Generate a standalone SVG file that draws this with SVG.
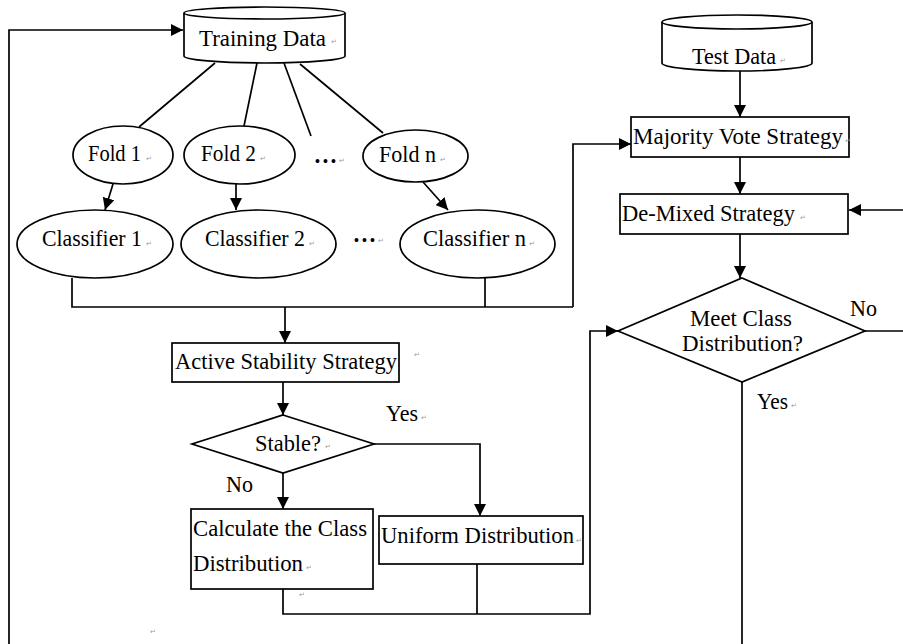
<svg xmlns="http://www.w3.org/2000/svg" width="903" height="644" viewBox="0 0 903 644">
<style>
.s{fill:#fff;stroke:#000;stroke-width:1.7}
.c{fill:none;stroke:#000;stroke-width:1.7}
.t{font-family:"Liberation Serif","Times New Roman",serif;font-size:23.5px;fill:#000}
.p{font-family:"DejaVu Sans",sans-serif;font-size:7px;fill:#999}
.d{font-family:"Liberation Serif",serif;font-size:14px;font-weight:bold;fill:#000}
</style>
<defs>
<marker id="ah" markerWidth="12" markerHeight="12" refX="12" refY="6" orient="auto" markerUnits="userSpaceOnUse"><path d="M0,0 L12,6 L0,12 z" fill="#000"/></marker>
</defs>
<rect width="903" height="644" fill="#fff"/>
<g id="connectors">
<polyline class="c" points="9,644 9,30 183,30" marker-end="url(#ah)"/>
<line class="c" x1="215" y1="63" x2="139" y2="127"/>
<line class="c" x1="257" y1="63" x2="244" y2="126"/>
<line class="c" x1="284" y1="63" x2="311" y2="136"/>
<line class="c" x1="300" y1="64" x2="383" y2="133"/>
<line class="c" x1="113" y1="184" x2="105" y2="210" marker-end="url(#ah)"/>
<line class="c" x1="236" y1="184" x2="236" y2="210" marker-end="url(#ah)"/>
<line class="c" x1="423" y1="182" x2="448" y2="210" marker-end="url(#ah)"/>
<polyline class="c" points="72,278 72,307 573,307"/>
<line class="c" x1="485" y1="278" x2="485" y2="307"/>
<polyline class="c" points="573,307 573,144 631,144" marker-end="url(#ah)"/>
<line class="c" x1="285" y1="307" x2="285" y2="343" marker-end="url(#ah)"/>
<line class="c" x1="283" y1="382" x2="283" y2="415" marker-end="url(#ah)"/>
<polyline class="c" points="374,444 480,444 480,516" marker-end="url(#ah)"/>
<line class="c" x1="283" y1="473" x2="283" y2="509" marker-end="url(#ah)"/>
<polyline class="c" points="283,589 283,614 590,614 590,331 618,331" marker-end="url(#ah)"/>
<line class="c" x1="477" y1="564" x2="477" y2="614"/>
<line class="c" x1="740" y1="71" x2="740" y2="117" marker-end="url(#ah)"/>
<line class="c" x1="740" y1="157" x2="740" y2="194" marker-end="url(#ah)"/>
<line class="c" x1="740" y1="234" x2="740" y2="278" marker-end="url(#ah)"/>
<line class="c" x1="865" y1="331" x2="903" y2="331"/>
<line class="c" x1="903" y1="210" x2="849" y2="210" marker-end="url(#ah)"/>
<line class="c" x1="742" y1="382" x2="742" y2="644"/>
</g>
<g id="training-data">
<path class="s" d="M184,13 L184,56 A80.5,7 0 0 0 345,56 L345,13"/>
<ellipse class="s" cx="264.5" cy="13" rx="80.5" ry="6"/>
<text class="t" x="199" y="46" textLength="127" lengthAdjust="spacingAndGlyphs">Training Data</text>
<text class="p" x="331" y="44">↵</text>
</g>
<g id="fold1">
<ellipse class="s" cx="123" cy="155" rx="50" ry="29"/>
<text class="t" x="88" y="161" textLength="53" lengthAdjust="spacingAndGlyphs">Fold 1</text>
<text class="p" x="146" y="161">↵</text>
</g>
<g id="fold2">
<ellipse class="s" cx="239.5" cy="155" rx="55.5" ry="29"/>
<text class="t" x="201" y="161" textLength="55" lengthAdjust="spacingAndGlyphs">Fold 2</text>
<text class="p" x="260" y="161">↵</text>
</g>
<g id="dots1">
<text class="d" x="315" y="166" textLength="21">•••</text>
<text class="p" x="339" y="163">↵</text>
</g>
<g id="foldn">
<ellipse class="s" cx="415.5" cy="156" rx="52.5" ry="26"/>
<text class="t" x="379" y="162" textLength="57" lengthAdjust="spacingAndGlyphs">Fold n</text>
<text class="p" x="440" y="162">↵</text>
</g>
<g id="classifier1">
<ellipse class="s" cx="95" cy="244" rx="78" ry="34"/>
<text class="t" x="42" y="246" textLength="100" lengthAdjust="spacingAndGlyphs">Classifier 1</text>
<text class="p" x="146" y="246">↵</text>
</g>
<g id="classifier2">
<ellipse class="s" cx="258.5" cy="244" rx="77.5" ry="34"/>
<text class="t" x="205" y="246" textLength="100" lengthAdjust="spacingAndGlyphs">Classifier 2</text>
<text class="p" x="309" y="246">↵</text>
</g>
<g id="dots2">
<text class="d" x="354" y="245" textLength="21">•••</text>
<text class="p" x="378" y="243">↵</text>
</g>
<g id="classifiern">
<ellipse class="s" cx="477.5" cy="244" rx="77.5" ry="34"/>
<text class="t" x="423" y="246" textLength="103" lengthAdjust="spacingAndGlyphs">Classifier n</text>
<text class="p" x="529" y="246">↵</text>
</g>
<g id="active-stability">
<rect class="s" x="172" y="343" width="227" height="39"/>
<text class="t" x="175" y="369" textLength="222" lengthAdjust="spacingAndGlyphs">Active Stability Strategy</text>
<text class="p" x="414" y="357">↵</text>
</g>
<g id="stable">
<polygon class="s" points="283,415 374,444 283,473 192,444"/>
<text class="t" x="255" y="451" textLength="66" lengthAdjust="spacingAndGlyphs">Stable?</text>
<text class="p" x="325" y="449">↵</text>
</g>
<g id="labels">
<text class="t" x="386" y="421" textLength="32" lengthAdjust="spacingAndGlyphs">Yes</text>
<text class="p" x="421" y="420">↵</text>
<text class="t" x="226" y="492" textLength="27" lengthAdjust="spacingAndGlyphs">No</text>
<text class="t" x="850" y="316" textLength="27" lengthAdjust="spacingAndGlyphs">No</text>
<text class="t" x="757" y="409" textLength="31" lengthAdjust="spacingAndGlyphs">Yes</text>
<text class="p" x="791" y="408">↵</text>
<text class="p" x="150" y="634">↵</text>
</g>
<g id="calc-class">
<rect class="s" x="191" y="509" width="182" height="80"/>
<text class="t" x="193" y="536" textLength="174" lengthAdjust="spacingAndGlyphs">Calculate the Class</text>
<text class="t" x="193" y="571" textLength="110" lengthAdjust="spacingAndGlyphs">Distribution</text>
<text class="p" x="306" y="570">↵</text>
<text class="p" x="299" y="597">↵</text>
</g>
<g id="uniform">
<rect class="s" x="379" y="516" width="204" height="48"/>
<text class="t" x="381" y="543" textLength="193" lengthAdjust="spacingAndGlyphs">Uniform Distribution</text>
<text class="p" x="576" y="543">↵</text>
</g>
<g id="test-data">
<path class="s" d="M662,22 L662,63 A75,8 0 0 0 812,63 L812,22"/>
<ellipse class="s" cx="737" cy="22" rx="75" ry="7"/>
<text class="t" x="692" y="64" textLength="84" lengthAdjust="spacingAndGlyphs">Test Data</text>
<text class="p" x="780" y="63">↵</text>
</g>
<g id="majority-vote">
<rect class="s" x="631" y="117" width="218" height="40"/>
<text class="t" x="633" y="144" textLength="210" lengthAdjust="spacingAndGlyphs">Majority Vote Strategy</text>
<text class="p" x="845" y="143">↵</text>
</g>
<g id="de-mixed">
<rect class="s" x="620" y="194" width="228" height="40"/>
<text class="t" x="622" y="221" textLength="173" lengthAdjust="spacingAndGlyphs">De-Mixed Strategy</text>
<text class="p" x="800" y="220">↵</text>
</g>
<g id="meet-class">
<polygon class="s" points="742,278 865,331 742,382 618,331"/>
<text class="t" x="690" y="326" textLength="102" lengthAdjust="spacingAndGlyphs">Meet Class</text>
<text class="t" x="682" y="351" textLength="121" lengthAdjust="spacingAndGlyphs">Distribution?</text>
</g>
</svg>
